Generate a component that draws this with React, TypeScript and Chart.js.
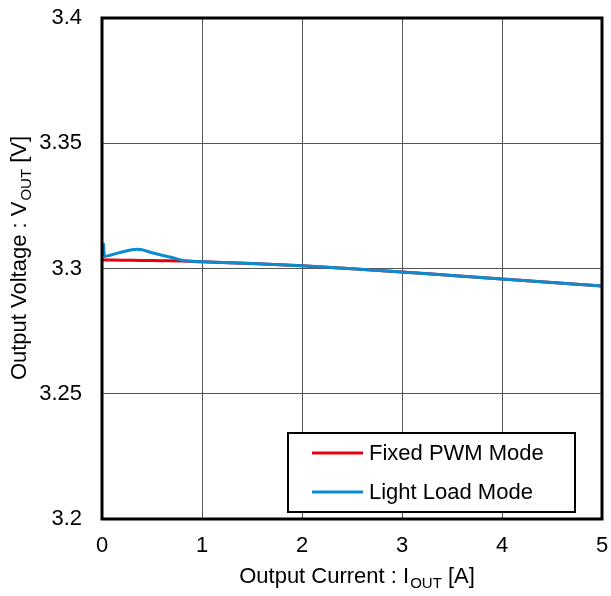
import React, { useEffect, useRef } from "react";
import { Chart, registerables } from "chart.js";

Chart.register(...registerables);

const currentFixed = [0, 0.2, 0.4, 0.6, 0.8, 1, 1.5, 2, 2.5, 3, 3.5, 4, 4.5, 5];
const voltageFixed = [3.3034, 3.3033, 3.3032, 3.3031, 3.303, 3.3027, 3.302, 3.3011, 3.2999, 3.2986, 3.2972, 3.2958, 3.2944, 3.293];

const currentLight = [0.015, 0.025, 0.1, 0.2, 0.3, 0.35, 0.4, 0.5, 0.6, 0.7, 0.8, 0.9, 1, 1.5, 2, 2.5, 3, 3.5, 4, 4.5, 5];
const voltageLight = [3.3101, 3.3048, 3.3055, 3.3066, 3.3075, 3.3077, 3.3075, 3.3063, 3.3053, 3.3044, 3.3033, 3.3029, 3.3027, 3.302, 3.3011, 3.2999, 3.2986, 3.2972, 3.2958, 3.2944, 3.293];

const seriesNames = ["Fixed PWM Mode", "Light Load Mode"];
const seriesColors = ["#E60012", "#0A8CD2"];
const xTicks = [0, 1, 2, 3, 4, 5];
const yTicks = [3.2, 3.25, 3.3, 3.35, 3.4];
const xTitle = [["Output Current : I", false], ["OUT", true], [" [A]", false]] as [string, boolean][];
const yTitle = [["Output Voltage : V", false], ["OUT", true], [" [V]", false]] as [string, boolean][];

const FONT = "Liberation Sans, Arial, sans-serif";
const MAIN = 22;
const SUB = 15;
const SUBGAP = 1;

function richWidth(ctx: CanvasRenderingContext2D, parts: [string, boolean][]) {
  let w = 0;
  for (const [t, s] of parts) {
    ctx.font = `${s ? SUB : MAIN}px ${FONT}`;
    w += ctx.measureText(t).width + (s ? SUBGAP : 0);
  }
  return w;
}

function drawRich(ctx: CanvasRenderingContext2D, parts: [string, boolean][], startX: number, baseY: number) {
  let x = startX;
  ctx.textBaseline = "alphabetic";
  ctx.textAlign = "left";
  for (const [t, s] of parts) {
    ctx.font = `${s ? SUB : MAIN}px ${FONT}`;
    if (s) x += SUBGAP;
    ctx.fillText(t, x, s ? baseY + 5 : baseY);
    x += ctx.measureText(t).width;
  }
}

const decorPlugin = {
  id: "decor",
  afterDatasetsDraw(chart: any) {
    const ctx: CanvasRenderingContext2D = chart.ctx;
    const ca = chart.chartArea;
    ctx.save();
    // plot border
    ctx.strokeStyle = "#000";
    ctx.lineWidth = 3;
    ctx.strokeRect(ca.left, ca.top, ca.right - ca.left, ca.bottom - ca.top);

    // legend
    const bx = ca.right - 314, by = ca.bottom - 86, bw = 287, bh = 79;
    ctx.fillStyle = "#fff";
    ctx.fillRect(bx, by, bw, bh);
    ctx.lineWidth = 2;
    ctx.strokeStyle = "#000";
    ctx.strokeRect(bx, by, bw, bh);
    const rows = [by + 20, by + 59];
    seriesNames.forEach((name, i) => {
      ctx.strokeStyle = seriesColors[i];
      ctx.lineWidth = 3;
      ctx.beginPath();
      ctx.moveTo(bx + 24, rows[i]);
      ctx.lineTo(bx + 75, rows[i]);
      ctx.stroke();
      ctx.fillStyle = "#000";
      ctx.font = `${MAIN}px ${FONT}`;
      ctx.textAlign = "left";
      ctx.textBaseline = "middle";
      ctx.fillText(name, bx + 81, rows[i] + 1);
    });

    // axis titles
    ctx.fillStyle = "#000";
    const cx = (ca.left + ca.right) / 2 + 5;
    const wx = richWidth(ctx, xTitle);
    drawRich(ctx, xTitle, cx - wx / 2, 583);

    const wy = richWidth(ctx, yTitle);
    ctx.translate(26, 258);
    ctx.rotate(-Math.PI / 2);
    drawRich(ctx, yTitle, -wy / 2, 0);
    ctx.restore();
  },
};

export default function App() {
  const ref = useRef<HTMLCanvasElement>(null);
  useEffect(() => {
    if (!ref.current) return;
    const chart = new Chart(ref.current, {
      type: "line",
      data: {
        datasets: [
          {
            label: seriesNames[0],
            data: currentFixed.map((x, i) => ({ x, y: voltageFixed[i] })),
            borderColor: seriesColors[0],
            borderWidth: 3,
            pointRadius: 0,
            cubicInterpolationMode: "monotone",
            order: 1,
          },
          {
            label: seriesNames[1],
            data: currentLight.map((x, i) => ({ x, y: voltageLight[i] })),
            borderColor: seriesColors[1],
            borderWidth: 3,
            pointRadius: 0,
            cubicInterpolationMode: "monotone",
            order: 0,
          },
        ],
      },
      options: {
        animation: false,
        responsive: true,
        maintainAspectRatio: false,
        layout: { padding: { left: 0, top: 18, right: 9, bottom: 0 } },
        plugins: { legend: { display: false }, tooltip: { enabled: false } },
        scales: {
          x: {
            type: "linear",
            min: xTicks[0],
            max: xTicks[xTicks.length - 1],
            afterBuildTicks: (s: any) => { s.ticks = xTicks.map((v) => ({ value: v })); },
            afterFit: (s: any) => { s.height = 77; s.paddingLeft = 0; s.paddingRight = 0; },
            ticks: { color: "#000", font: { family: FONT, size: MAIN }, padding: 14, maxRotation: 0 },
            grid: { color: "#555", lineWidth: 1, drawTicks: false },
            border: { display: false },
          },
          y: {
            type: "linear",
            min: yTicks[0],
            max: yTicks[yTicks.length - 1],
            afterBuildTicks: (s: any) => { s.ticks = yTicks.map((v) => ({ value: v })); },
            afterFit: (s: any) => { s.width = 102; s.paddingTop = 0; s.paddingBottom = 0; },
            ticks: {
              color: "#000",
              font: { family: FONT, size: MAIN },
              padding: 20,
              callback: (v: any) => String(Number(Number(v).toFixed(2))),
            },
            grid: { color: "#555", lineWidth: 1, drawTicks: false },
            border: { display: false },
          },
        },
      },
      plugins: [decorPlugin],
    });
    return () => chart.destroy();
  }, []);
  return (
    <div style={{ position: "absolute", left: 0, top: 0, width: 611, height: 596, background: "#fff" }}>
      <canvas ref={ref} />
    </div>
  );
}
